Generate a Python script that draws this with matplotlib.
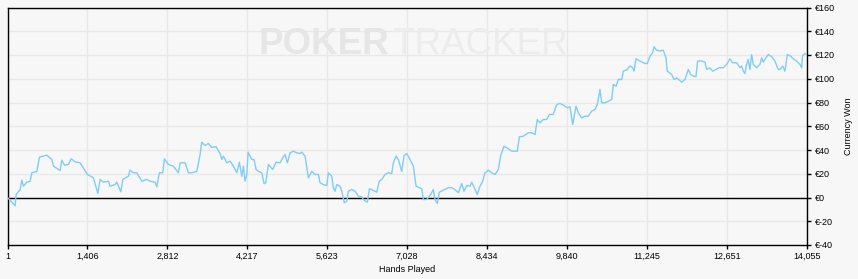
import matplotlib
matplotlib.use('Agg')
import matplotlib.pyplot as plt
from matplotlib.ticker import FuncFormatter, MultipleLocator

# cumulative winnings, hands played vs euros
hands = [1, 135, 153, 223, 253, 281, 341, 399, 429, 517, 562, 692, 780, 808, 926, 956,
         1002, 1072, 1119, 1190, 1278, 1406, 1511, 1589, 1629, 1687, 1775, 1805, 1893, 1923,
         1993, 2028, 2126, 2156, 2214, 2274, 2362, 2450, 2508, 2596, 2626, 2671, 2731, 2759,
         2829, 2917, 3005, 3035, 3123, 3181, 3241, 3329, 3387, 3416, 3474, 3532, 3592, 3668,
         3738, 3768, 3796, 3856, 3914, 3972, 4031, 4077, 4119, 4148, 4177, 4207, 4230, 4295,
         4335, 4371, 4411, 4471, 4511, 4541, 4587, 4664, 4722, 4792, 4840, 4880, 4921, 4968,
         5026, 5086, 5144, 5174, 5232, 5290, 5350, 5408, 5466, 5495, 5553, 5613, 5641, 5701,
         5729, 5759, 5789, 5847, 5877, 5922, 5965, 5993, 6053, 6111, 6168, 6228, 6256, 6327,
         6362, 6404, 6462, 6492, 6536, 6580, 6638, 6696, 6755, 6784, 6831, 6871, 6931, 6972,
         7019, 7077, 7135, 7183, 7240, 7283, 7311, 7371, 7416, 7458, 7486, 7516, 7557, 7592,
         7662, 7750, 7810, 7868, 7926, 7986, 8026, 8073, 8132, 8161, 8219, 8260, 8307, 8355,
         8395, 8453, 8513, 8571, 8629, 8671, 8729, 8805, 8864, 8922, 8963, 8998, 9068, 9156,
         9216, 9274, 9314, 9362, 9420, 9479, 9525, 9595, 9655, 9713, 9783, 9841, 9889, 9936,
         9994, 10035, 10094, 10152, 10210, 10270, 10328, 10369, 10416, 10446, 10504, 10562,
         10622, 10650, 10697, 10738, 10798, 10826, 10885, 10943, 10991, 11014, 11049, 11119,
         11207, 11247, 11295, 11342, 11365, 11412, 11471, 11529, 11576, 11599, 11676, 11717,
         11764, 11810, 11852, 11910, 11968, 12010, 12056, 12103, 12133, 12203, 12261, 12291,
         12343, 12397, 12455, 12513, 12583, 12643, 12701, 12748, 12818, 12877, 12906, 12935,
         12964, 12994, 13022, 13052, 13082, 13110, 13170, 13228, 13258, 13286, 13333, 13374,
         13434, 13491, 13550, 13579, 13627, 13667, 13708, 13768, 13813, 13873, 13931, 13961,
         13978, 14019, 14049]
won = [0, -7, 2.5, 6.7, 14.6, 9.5, 12.9, 13.7, 20.8, 22, 34, 35.6, 32, 26.4, 22.7, 31.4,
       27.2, 27.8, 32.6, 30, 29.2, 19.4, 16.6, 3.4, 15.2, 12.9, 13.7, 9.5, 10.9, 12.9,
       4.8, 15.2, 17.9, 23, 20.8, 20.8, 13.7, 15.2, 13.7, 12.9, 9, 20.8, 20.8, 32.6,
       27.8, 26.4, 20.8, 29.2, 29.2, 20.8, 20.8, 22, 36.2, 46.6, 43.8, 45.5, 42, 42.8,
       37, 32, 34.8, 29.2, 30.6, 26.4, 20.8, 29.7, 17.9, 26.4, 13.7, 19.4, 38.2, 32,
       32, 23.6, 22, 20.8, 11.6, 12.4, 27.8, 23.6, 29.7, 29.2, 33.4, 36.2, 29.2, 37.6,
       39, 37.6, 37, 38.2, 34.8, 16.6, 22, 19.4, 19.4, 12.4, 10.9, 10.1, 20.8, 17.9,
       8.2, 5.3, 10.9, 9.5, 5.3, -4.5, -3.1, 5.3, 6.7, 5.3, 1.1, 0.6, -1.7, -4,
       7.3, 6.7, 5.3, 4.5, 13.7, 15.2, 19.4, 20.8, 20.2, 29.2, 34.8, 32, 22, 35.4,
       37, 32, 26.4, 9.5, 8.2, 7.3, -1.7, -1.7, 1.1, 4, 6.7, -1.7, -5, 4.5,
       6.2, 8.2, 8.2, 6.7, 4, 11.8, 5.3, 10.1, 9.5, 12.9, 6.7, 2.5, 9.5, 13.7,
       20.8, 23, 20.8, 19.4, 23.6, 35.4, 43.2, 41, 39, 39, 39, 51.1, 51.6, 54.5,
       54.5, 53, 65.7, 62.9, 65.7, 65.7, 69.9, 69.9, 78.3, 79.2, 77.5, 75.5, 76.4, 61.5,
       76.9, 71.3, 67.1, 68.5, 68.5, 72.7, 74.1, 78.3, 91, 79.7, 79.7, 81.1,
       82.5, 95.2, 93.7, 99.4, 99.4, 106.4, 107.4, 110.7, 109.3, 106.4, 116.8, 114.9,
       112.8, 112.8, 119, 121.9, 126.9, 124, 123.4, 124, 117.6, 106.4, 103.6, 99.4,
       100.8, 98.8, 97.1, 99.4, 107.8, 103.6, 102.3, 101.7, 114.9, 114.9, 114, 107.8,
       109.3, 106.4, 107.8, 109.3, 109.3, 112.1, 116.8, 113.5, 113.5, 109.3, 110.7, 106.4,
       104.4, 112.1, 116.3, 107.8, 120.4, 112.1, 109.3, 112.1, 117.6, 114, 117.6, 120.4,
       118.5, 114.9, 107.8, 107.8, 110.7, 106.4, 120.4, 119, 116.8, 114.9, 112.1, 109.3,
       119.6, 121.3, 120.4]

x_ticks = [1, 1406, 2812, 4217, 5623, 7028, 8434, 9840, 11245, 12651, 14055]

bg = '#f7f7f7'
fnt = ['Liberation Sans', 'DejaVu Sans']
plt.rcParams['font.family'] = fnt

fig = plt.figure(figsize=(8.58, 2.79), dpi=100, facecolor=bg)
ax = fig.add_axes([7.5 / 858, 1 - 245 / 279, (807 - 7.5) / 858, (245 - 7.5) / 279])
ax.set_facecolor(bg)

# watermark
fig.text(389 / 858, 1 - 45 / 279, 'POKER', ha='right', va='center', fontsize=26.5,
         fontweight='bold', color='#e6e6e6', zorder=0)
fig.text(392 / 858, 1 - 45 / 279, 'TRACKER', ha='left', va='center', fontsize=26.5,
         color='#ececec', zorder=0)

ax.plot(hands, won, color='#7fcdf5', lw=1.0, zorder=3)
ax.axhline(0, color='black', lw=1.0, zorder=2)

ax.set_xlim(1, 14055)
ax.set_ylim(-40, 160)
ax.set_xticks(x_ticks)
ax.set_xticklabels([f'{t:,}' for t in x_ticks])
ax.yaxis.set_major_locator(MultipleLocator(20))
ax.yaxis.set_major_formatter(FuncFormatter(lambda v, p: f'€{v:.0f}'))
ax.yaxis.tick_right()
ax.yaxis.set_label_position('right')

ax.grid(True, color='#e8e8e8', lw=1.0, zorder=0)
ax.set_axisbelow(True)
for s in ax.spines.values():
    s.set_color('black')
    s.set_linewidth(1.0)

ax.tick_params(axis='x', length=3, width=1, pad=2, labelsize=6.5, colors='black')
ax.tick_params(axis='y', length=3, width=1, pad=3, labelsize=6.5, colors='black')

ax.set_xlabel('Hands Played', fontsize=6.5, labelpad=3)
ax.set_ylabel('Currency Won', fontsize=6.5, labelpad=6, rotation=90)

fig.savefig('out.png', dpi=100, facecolor=bg)
